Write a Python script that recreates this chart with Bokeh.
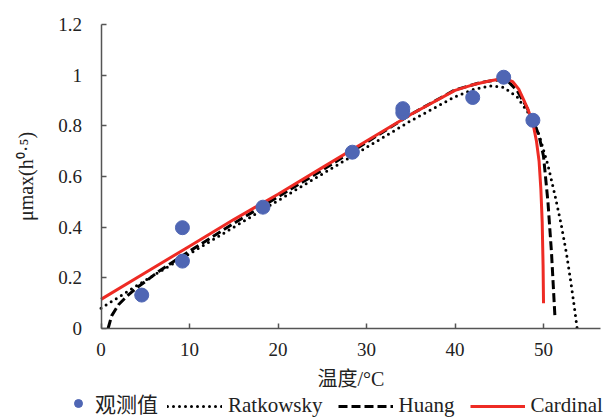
from bokeh.plotting import figure
from bokeh.models import Range1d, Legend, LegendItem, FixedTicker
from bokeh.embed import file_html
from bokeh.resources import INLINE

# Observed values
obs_t = [4.6, 9.2, 9.2, 18.3, 28.4, 34.1, 34.1, 42.0, 45.5, 48.8]
obs_mu = [0.132, 0.398, 0.266, 0.479, 0.696, 0.852, 0.868, 0.912, 0.992, 0.822]

# Ratkowsky model curve
rat_t = [0, 5, 10, 15, 20, 25, 30, 35, 40, 42, 44, 45.5, 47, 48.5, 49.5, 50.5, 51.3, 52.0, 52.6, 53.1, 53.5, 53.8]
rat_mu = [0.08, 0.19, 0.295, 0.40, 0.505, 0.61, 0.715, 0.82, 0.915, 0.943, 0.958, 0.952, 0.915, 0.84, 0.765, 0.645, 0.525, 0.41, 0.295, 0.18, 0.08, 0.0]

# Huang model curve
hua_t = [0.8, 1.2, 2, 3, 4, 5, 6.5, 8, 10, 15, 20, 25, 30, 35, 40, 43, 45, 46, 47, 48, 48.8, 49.5, 50.0, 50.5, 50.9, 51.3]
hua_mu = [0.0, 0.05, 0.095, 0.13, 0.16, 0.185, 0.225, 0.26, 0.305, 0.415, 0.52, 0.625, 0.735, 0.845, 0.942, 0.972, 0.982, 0.975, 0.94, 0.88, 0.825, 0.76, 0.68, 0.5, 0.3, 0.04]

# Cardinal model curve
car_t = [0, 5, 10, 15, 20, 25, 30, 35, 40, 42, 44, 45, 45.8, 46.5, 47.2, 47.8, 48.3, 48.8, 49.2, 49.5, 49.7, 49.85, 49.95, 50.0]
car_mu = [0.115, 0.22, 0.325, 0.43, 0.53, 0.635, 0.74, 0.845, 0.94, 0.962, 0.978, 0.984, 0.985, 0.975, 0.945, 0.90, 0.86, 0.81, 0.74, 0.66, 0.55, 0.42, 0.25, 0.10]

x_ticks = [0, 10, 20, 30, 40, 50]
y_ticks = [0, 0.2, 0.4, 0.6, 0.8, 1.0, 1.2]
series_names = ["观测值", "Ratkowsky", "Huang", "Cardinal"]

SERIF = "Liberation Serif, Noto Sans CJK SC"
TXT = "#222222"
BLUE = "#4F66B4"
RED = "#EE2B24"
AX = "#555555"

# The frame fills the whole canvas; axes are pinned at 0 so that the space
# below/left of them holds tick labels, axis titles and the legend.
p = figure(width=604, height=418, output_backend="svg", toolbar_location=None,
           x_range=Range1d(-11.356, 56.89), y_range=Range1d(-0.3553, 1.2949),
           min_border_left=0, min_border_right=0, min_border_top=0, min_border_bottom=0)
p.outline_line_color = None
p.xgrid.grid_line_color = None
p.ygrid.grid_line_color = None

for ax in (p.xaxis[0], p.yaxis[0]):
    ax.fixed_location = 0
    ax.axis_line_color = AX
    ax.axis_line_width = 1.5
    ax.major_tick_line_color = AX
    ax.major_tick_line_width = 1.5
    ax.major_tick_in = 5
    ax.major_tick_out = 0
    ax.minor_tick_line_color = None
    ax.major_label_text_font = SERIF
    ax.major_label_text_font_size = "19px"
    ax.major_label_text_color = TXT
    ax.axis_label_text_font = SERIF
    ax.axis_label_text_font_size = "20px"
    ax.axis_label_text_font_style = "normal"
    ax.axis_label_text_color = TXT

p.xaxis.bounds = (0, 56.44)
p.yaxis.bounds = (0, 1.2)
p.xaxis.ticker = FixedTicker(ticks=x_ticks)
p.yaxis.ticker = FixedTicker(ticks=y_ticks)
p.yaxis.major_label_overrides = {0: "0", 1.0: "1"}
p.xaxis.major_label_standoff = 14
p.yaxis.major_label_standoff = 19
p.xaxis.axis_label = "温度/°C"
p.xaxis.axis_label_standoff = 9
p.yaxis.axis_label = "μmax(h⁰·⁵)"
p.yaxis.axis_label_standoff = 19

r_rat = p.line(rat_t, rat_mu, line_color="black", line_width=3, line_dash="0 6", line_cap="round")
r_hua = p.line(hua_t, hua_mu, line_color="black", line_width=3, line_dash="9 4")
r_car = p.line(car_t, car_mu, line_color=RED, line_width=3)
r_obs = p.scatter(obs_t, obs_mu, size=14, fill_color=BLUE, line_color=BLUE)


def style_legend(leg, gw):
    leg.orientation = "horizontal"
    leg.label_text_font = SERIF
    leg.label_text_font_size = "21px"
    leg.label_text_color = TXT
    leg.label_text_baseline = "middle"
    leg.glyph_width = gw
    leg.glyph_height = 20
    leg.label_height = 20
    leg.spacing = 15
    leg.padding = 0
    leg.margin = 0
    leg.label_standoff = 6
    leg.border_line_color = None
    leg.background_fill_alpha = 0


leg_a = Legend(items=[LegendItem(label=series_names[0], renderers=[r_obs])], location=(67, 0))
style_legend(leg_a, 22)
leg_b = Legend(items=[
    LegendItem(label=series_names[1], renderers=[r_rat]),
    LegendItem(label=series_names[2], renderers=[r_hua]),
    LegendItem(label=series_names[3], renderers=[r_car]),
], location=(167, 0))
style_legend(leg_b, 55)
p.add_layout(leg_a, "center")
p.add_layout(leg_b, "center")

open("out.html", "w").write(file_html(p, INLINE))
